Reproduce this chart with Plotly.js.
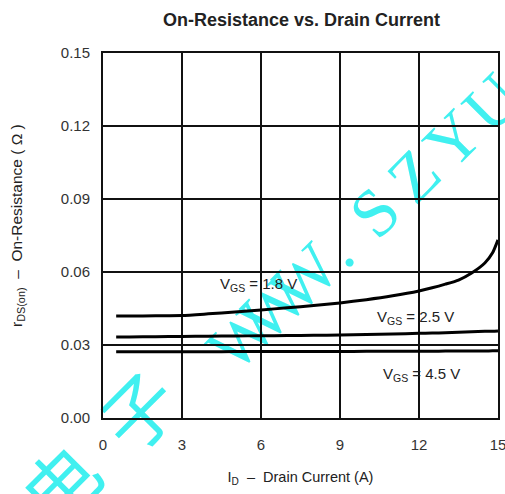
<!DOCTYPE html>
<html>
<head>
<meta charset="utf-8">
<script src="https://cdn.plot.ly/plotly-3.0.1.min.js"></script>
<style>html,body{margin:0;padding:0;background:#fff;}#chart{width:505px;height:494px;}</style>
</head>
<body>
<div id="chart"></div>
<script>
// Drain current (A)
const drainCurrent = [0.5, 1, 2, 3, 4, 5, 6, 7, 8, 9, 10, 11, 12, 12.5, 13, 13.5, 14, 14.5, 14.8, 15];
// On-resistance (ohm) per gate voltage
const rds18 = [0.0419, 0.0419, 0.0420, 0.0421, 0.0428, 0.0436, 0.0444, 0.0453, 0.0462, 0.0473, 0.0486, 0.0502, 0.0522, 0.0535, 0.0550, 0.0567, 0.0596, 0.0637, 0.0680, 0.0732];
const rds25 = [0.0333, 0.0333, 0.0334, 0.0335, 0.0336, 0.0337, 0.0338, 0.0339, 0.0340, 0.0341, 0.0343, 0.0345, 0.0348, 0.0349, 0.0350, 0.0352, 0.0354, 0.0356, 0.0357, 0.0358];
const rds45 = [0.0272, 0.0272, 0.0272, 0.0272, 0.0272, 0.0273, 0.0273, 0.0273, 0.0273, 0.0273, 0.0274, 0.0274, 0.0274, 0.0274, 0.0275, 0.0275, 0.0275, 0.0275, 0.0276, 0.0276];
const xTicks = [0, 3, 6, 9, 12, 15];
const xTickLabels = ['0', '3', '6', '9', '12', '15'];
const yTicks = [0, 0.03, 0.06, 0.09, 0.12, 0.15];
const yTickLabels = ['0.00', '0.03', '0.06', '0.09', '0.12', '0.15'];
const seriesLabels = ['V<sub>GS</sub> = 1.8 V', 'V<sub>GS</sub> = 2.5 V', 'V<sub>GS</sub> = 4.5 V'];
const yTitleText = 'r<sub>DS(on)</sub>  \u2013  On-Resistance ( \u03A9 )';
const xTitleText = 'I<sub>D</sub>  \u2013  Drain Current (A)';
// watermark characters, in half-width slots (CJK take two)
const watermarkChars = ['电', '子', 'W', 'W', 'W', '.', 'S', 'Z', 'Y', 'U', 'C'];
const watermarkSlots = [-4, -2, 0.35, 1.15, 1.95, 2.75, 3.75, 4.75, 5.75, 6.75, 7.75];

const lineStyle = {color: '#000', width: 3, shape: 'spline', smoothing: 0.6};
const traces = [rds18, rds25, rds45].map(ys => ({
  x: drainCurrent, y: ys, type: 'scatter', mode: 'lines', line: lineStyle, hoverinfo: 'none'
}));

const fontBase = {family: 'Liberation Sans, Arial, sans-serif', color: '#222'};
const px2paperX = p => (p - 103) / 395;
const px2paperY = p => (418 - p) / 365;
const wmColor = '#40f0f0';

// watermark layout: first W centre, step per half-width slot (pixels)
const wmOrigin = [223, 344], wmStep = [39.1, -36.5];
const wmShapes = watermarkChars.map((ch, i) => {
  const cx = wmOrigin[0] + wmStep[0] * watermarkSlots[i];
  const cy = wmOrigin[1] + wmStep[1] * watermarkSlots[i];
  const cjk = /[\u4e00-\u9fff]/.test(ch);
  return {
    type: 'rect', xref: 'paper', yref: 'paper', layer: 'below',
    x0: px2paperX(cx - 4), x1: px2paperX(cx + 4), y0: px2paperY(cy + 4), y1: px2paperY(cy - 4),
    line: {width: 0}, fillcolor: 'rgba(0,0,0,0)',
    label: {text: ch, textangle: -45, textposition: 'middle center',
            font: cjk ? {family: 'Noto Sans CJK SC, sans-serif', size: 74, color: wmColor}
                      : {family: 'Liberation Serif, Times New Roman, serif', size: 68, color: wmColor}}
  };
});

const layout = {
  width: 505, height: 494,
  margin: {l: 103, r: 7, t: 53, b: 76},
  paper_bgcolor: '#fff', plot_bgcolor: 'rgba(0,0,0,0)',
  showlegend: false,
  title: {text: 'On-Resistance vs. Drain Current', x: 0.597, xanchor: 'center', y: 0.9595, yanchor: 'middle',
          font: Object.assign({}, fontBase, {size: 18, weight: 'bold', color: '#222'})},
  xaxis: {range: [0, 15], tickvals: xTicks, ticktext: xTickLabels, showgrid: true, gridcolor: '#111', gridwidth: 1.5,
          zeroline: false, showline: true, linecolor: '#111', linewidth: 2, mirror: true, ticks: '', ticklen: 0,
          ticklabelstandoff: 12, ticklabeloverflow: 'allow',
          tickfont: Object.assign({}, fontBase, {size: 15, color: '#333'}),
          title: {text: xTitleText, standoff: 20, font: Object.assign({}, fontBase, {size: 14.5})}},
  yaxis: {range: [0, 0.15], tickvals: yTicks, ticktext: yTickLabels, showgrid: true, gridcolor: '#111', gridwidth: 1.5,
          zeroline: false, showline: true, linecolor: '#111', linewidth: 2, mirror: true, ticks: '', ticklen: 0,
          ticklabelstandoff: 8, ticklabeloverflow: 'allow',
          tickfont: Object.assign({}, fontBase, {size: 15, color: '#333'})},
  shapes: wmShapes,
  annotations: [
    {x: px2paperX(17), y: px2paperY(226), xref: 'paper', yref: 'paper', xanchor: 'center', yanchor: 'middle',
     text: yTitleText, showarrow: false, textangle: -90, font: Object.assign({}, fontBase, {size: 15.5})},
    {x: 5.92, y: 0.0547, xref: 'x', yref: 'y', text: seriesLabels[0], showarrow: false, font: Object.assign({}, fontBase, {size: 15})},
    {x: 11.85, y: 0.0415, xref: 'x', yref: 'y', text: seriesLabels[1], showarrow: false, font: Object.assign({}, fontBase, {size: 15})},
    {x: 12.1, y: 0.0177, xref: 'x', yref: 'y', text: seriesLabels[2], showarrow: false, font: Object.assign({}, fontBase, {size: 15})}
  ]
};

Plotly.newPlot('chart', traces, layout, {staticPlot: true, displayModeBar: false});
</script>
</body>
</html>
